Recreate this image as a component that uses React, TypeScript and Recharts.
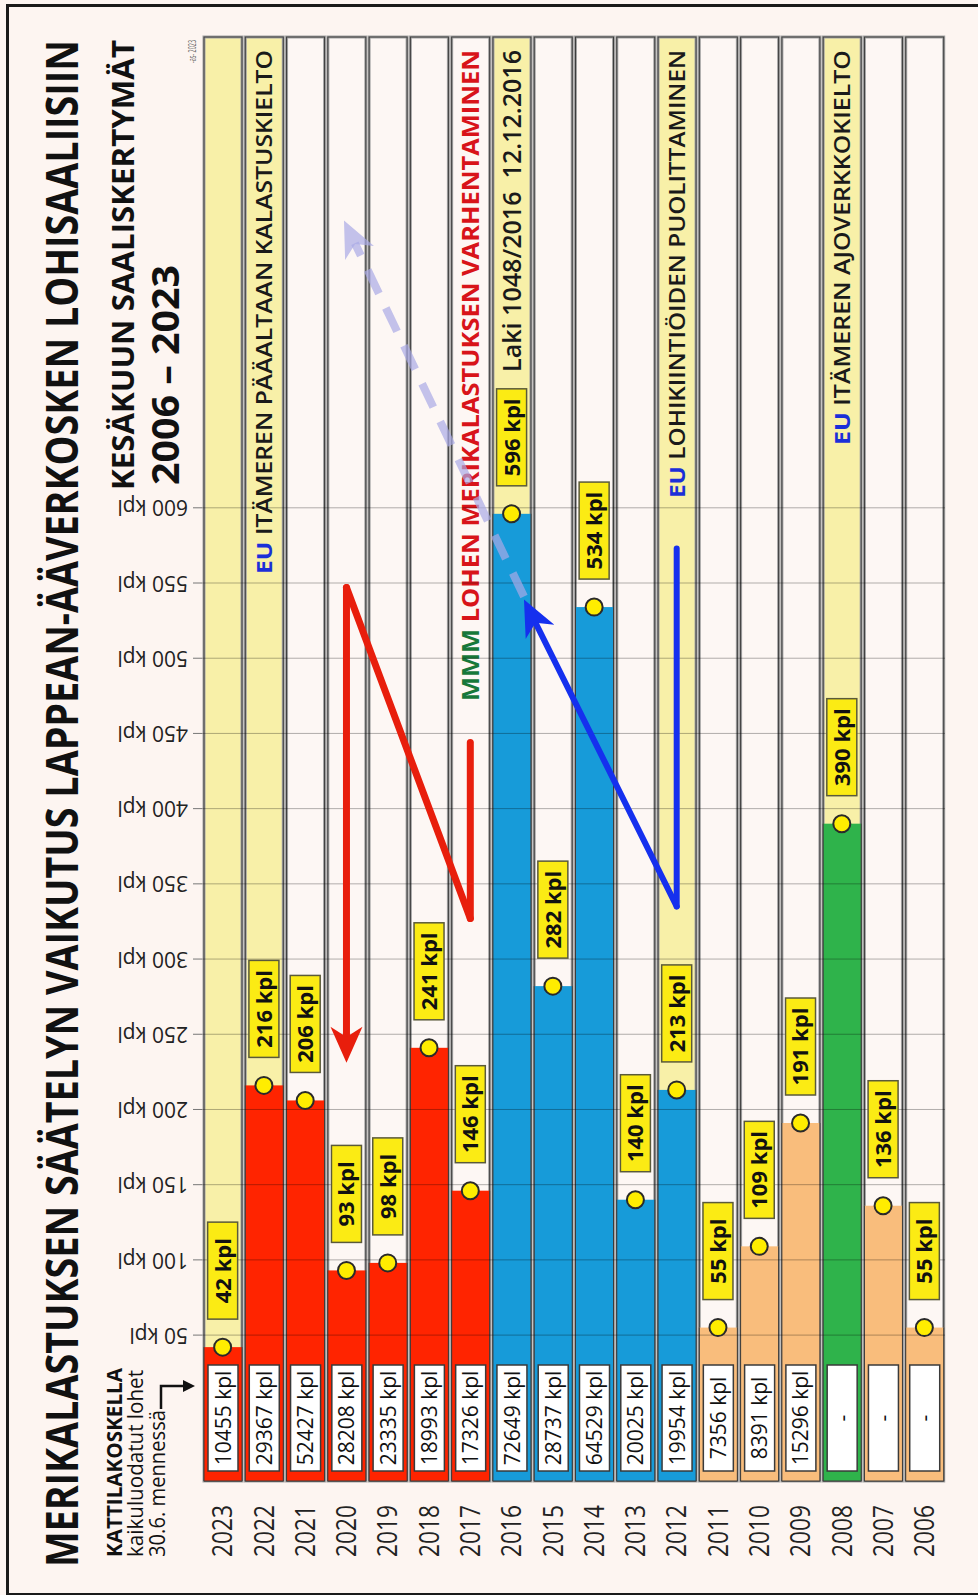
import React from 'react';
import { ComposedChart, Bar, Line, XAxis, YAxis, ReferenceLine } from 'recharts';

// Kesäkuun saaliskertymät, Lappean-Äävervoski (kpl)
const years = ['2023', '2022', '2021', '2020', '2019', '2018', '2017', '2016', '2015', '2014', '2013', '2012', '2011', '2010', '2009', '2008', '2007', '2006'];
const catchKpl = [42, 216, 206, 93, 98, 241, 146, 596, 282, 534, 140, 213, 55, 109, 191, 390, 136, 55];
// Kattilakoskella kaikuluodatut lohet 30.6. mennessä (null = ei tietoa)
const echoCounts = [10455, 29367, 52427, 28208, 23335, 18993, 17326, 72649, 28737, 64529, 20025, 19954, 7356, 8391, 15296, null, null, null];
const valueTicks = [50, 100, 150, 200, 250, 300, 350, 400, 450, 500, 550, 600];

const notes = [
  { year: '2022', lead: 'EU', text: 'ITÄMEREN PÄÄALTAAN KALASTUSKIELTO' },
  { year: '2017', lead: 'MMM', text: 'LOHEN MERIKALASTUKSEN VARHENTAMINEN' },
  { year: '2016', lead: '', text: 'Laki 1048/2016  12.12.2016' },
  { year: '2012', lead: 'EU', text: 'LOHIKIINTIÖIDEN PUOLITTAMINEN' },
  { year: '2008', lead: 'EU', text: 'ITÄMEREN AJOVERKKOKIELTO' },
];

// annotation arrows: [row (0 = 2023 ... 17 = 2006, fractional between), kpl]
const redArrow = [[6, 444], [6, 327], [3, 547], [3, 231]];
const blueArrow = [[11, 573], [11, 335], [7.3, 539]];
const dashedArrow = [[7.3, 541], [2.94, 791]];

const AXIS_MIN = -47;
const AXIS_MAX = 913;
const FONT = "'Open Sans', 'DejaVu Sans', sans-serif";

const highlighted = ['2023', '2022', '2016', '2012', '2008'];
const noteStyle: Record<string, any> = {
  '2022': { size: 22, weight: 600, length: 524, lead: '#1b2fd8', color: '#1a1a1a' },
  '2017': { size: 24, weight: 700, length: 651, lead: '#17783a', color: '#d8141a' },
  '2016': { size: 25, weight: 600, length: 322, lead: '#1a1a1a', color: '#1a1a1a' },
  '2012': { size: 22, weight: 600, length: 448, lead: '#1b2fd8', color: '#1a1a1a' },
  '2008': { size: 22, weight: 600, length: 395, lead: '#1b2fd8', color: '#1a1a1a' },
};

const barColor = (year: number) => {
  if (year >= 2017) return '#ff2400';
  if (year >= 2012) return '#179bd9';
  if (year === 2008) return '#2fb34b';
  return '#f9bd7c';
};

const chartData = years.map((year, i) => ({ year, row: i, kpl: catchKpl[i], span: [AXIS_MIN, catchKpl[i]] }));

const renderStripe = (p: any) => {
  const { x, y, width, height, index } = p;
  const year = years[index];
  const note = notes.find((n) => n.year === year);
  const st = note ? noteStyle[year] : null;
  return (
    <g key={`stripe-${index}`}>
      <rect x={x} y={y} width={width} height={height} fill={highlighted.includes(year) ? '#f8f0a8' : '#fdf7f4'} stroke="#a3a3a3" strokeWidth={3} />
      <rect x={x} y={y} width={width} height={height} fill="none" stroke="#3c3c3c" strokeWidth={1} />
      {note && (
        <text
          x={x + width - 13 - st.length}
          y={y + height / 2}
          dy="0.36em"
          fontSize={st.size}
          fontWeight={st.weight}
          fontFamily={FONT}
          textLength={st.length}
          lengthAdjust="spacingAndGlyphs"
          style={{ whiteSpace: 'pre' }}
        >
          {note.lead && <tspan fill={st.lead} fontWeight={700}>{note.lead + ' '}</tspan>}
          <tspan fill={st.color}>{note.text}</tspan>
        </text>
      )}
    </g>
  );
};

const renderBar = (p: any) => {
  const { x, y, width, height, index } = p;
  const count = echoCounts[index];
  const bx = x + 10;
  const by = y + 4;
  return (
    <g>
      <rect x={x} y={y} width={width} height={height} fill={barColor(Number(years[index]))} />
      <path d={`M${x + width},${y} H${x} V${y + height} H${x + width}`} fill="none" stroke="#3c3c3c" strokeWidth={1} />
      <rect x={bx} y={by} width={106} height={height - 8} fill="#ffffff" stroke="#3a3a3a" strokeWidth={1.5} />
      <text x={bx + 53} y={by + (height - 8) / 2} dy="0.36em" textAnchor="middle" fontSize={21} fontFamily={FONT} fill="#111">
        {count == null ? '-' : `${count} kpl`}
      </text>
    </g>
  );
};

const renderDot = (p: any) => {
  const { cx, cy, index } = p;
  return (
    <g key={`dot-${index}`}>
      <circle cx={cx} cy={cy} r={8.5} fill="#ffed00" stroke="#2a2a2a" strokeWidth={2} />
      <rect x={cx + 28} y={cy - 15} width={97} height={30} fill="#fbeb14" stroke="#5a5a3a" strokeWidth={1.5} />
      <text x={cx + 76.5} y={cy} dy="0.36em" textAnchor="middle" fontSize={22} fontWeight={700} fontFamily={FONT} fill="#111">
        {`${catchKpl[index]} kpl`}
      </text>
    </g>
  );
};

const renderValueTick = (p: any) => {
  const { x, y, payload } = p;
  return (
    <g transform={`translate(${x},${y}) rotate(-90)`}>
      <text x={0} y={0} dy="0.35em" textAnchor="start" fontSize={21} fontFamily={FONT} fill="#222">
        {`${payload.value} kpl`}
      </text>
    </g>
  );
};

const renderYear = (p: any) => {
  const { x, y, payload } = p;
  return (
    <text x={x - 52} y={y} dy="0.36em" fontSize={27} fontFamily={FONT} fill="#222" textLength={52} lengthAdjust="spacingAndGlyphs">
      {payload.value}
    </text>
  );
};

const arrowSeg = (color: string, w: number, head: boolean, dash?: string) => (p: any) => {
  const { x1, y1, x2, y2 } = p;
  const len = Math.hypot(x2 - x1, y2 - y1) || 1;
  const ux = (x2 - x1) / len;
  const uy = (y2 - y1) / len;
  const hl = 36;
  const hw = 16;
  const ex = head ? x2 - ux * hl * 0.7 : x2;
  const ey = head ? y2 - uy * hl * 0.7 : y2;
  return (
    <g>
      <line x1={x1} y1={y1} x2={ex} y2={ey} stroke={color} strokeWidth={w} strokeLinecap={dash ? 'butt' : 'round'} strokeDasharray={dash} />
      {head && (
        <polygon
          points={`${x2},${y2} ${x2 - ux * hl - uy * hw},${y2 - uy * hl + ux * hw} ${x2 - ux * hl * 0.72},${y2 - uy * hl * 0.72} ${x2 - ux * hl + uy * hw},${y2 - uy * hl - ux * hw}`}
          fill={color}
        />
      )}
    </g>
  );
};

const arrowLines = (pts: number[][], name: string, color: string, w: number, dash?: string) =>
  pts.slice(1).map((pt, i) => (
    <ReferenceLine
      key={`${name}-${i}`}
      yAxisId="row"
      segment={[{ x: pts[i][1], y: pts[i][0] }, { x: pt[1], y: pt[0] }]}
      shape={arrowSeg(color, w, i === pts.length - 2, dash)}
      ifOverflow="visible"
    />
  ));

// half a row band, so that row i of the numeric axis sits on the centre of category i
const HALF_ROW = 743 / years.length / 2;
// title is squeezed horizontally (condensed look)
const TITLE_SX = 0.7;

export default function App() {
  return (
    <div style={{ position: 'absolute', left: 0, top: 0, width: 978, height: 1595, background: '#fdf5f1', overflow: 'hidden', fontFamily: FONT }}>
      <div style={{ position: 'absolute', left: 6, top: 4, width: 990, height: 1586, border: '3px solid #1a1a1a' }} />
      <div style={{ position: 'absolute', left: 0, top: 0, width: 1595, height: 978, transformOrigin: '0 0', transform: 'translateY(1595px) rotate(-90deg)' }}>
        <ComposedChart width={1595} height={978} data={chartData} layout="vertical" margin={{ top: 0, right: 37, bottom: 33, left: 0 }}>
          <XAxis
            type="number"
            orientation="top"
            height={202}
            domain={[AXIS_MIN, AXIS_MAX]}
            ticks={valueTicks}
            interval={0}
            tickSize={9}
            tickMargin={5}
            axisLine={false}
            tickLine={{ stroke: '#777' }}
            tick={renderValueTick}
          />
          <YAxis type="category" dataKey="year" width={114} interval={0} tickLine={false} axisLine={false} tickSize={0} tickMargin={24} tick={renderYear} />
          <YAxis yAxisId="row" type="number" dataKey="row" domain={[0, years.length - 1]} padding={{ top: HALF_ROW, bottom: HALF_ROW }} hide />
          <Bar dataKey="span" barSize={38} background={renderStripe} shape={renderBar} isAnimationActive={false} />
          {valueTicks.map((t) => (
            <ReferenceLine key={`grid-${t}`} x={t} stroke="#000" strokeOpacity={0.3} strokeWidth={1} />
          ))}
          {arrowLines(dashedArrow, 'dash', 'rgba(170,170,230,0.7)', 8, '26 16')}
          {arrowLines(redArrow, 'red', '#e81e0c', 7)}
          {arrowLines(blueArrow, 'blue', '#1530ee', 6)}
          <Line dataKey="kpl" stroke="none" dot={renderDot} activeDot={false} isAnimationActive={false} />
        </ComposedChart>
        <svg width={1595} height={978} style={{ position: 'absolute', left: 0, top: 0, pointerEvents: 'none' }} fontFamily={FONT}>
          <g transform={`translate(28,78) scale(${TITLE_SX},1)`}>
            <text x={0} y={0} fontSize={44} fontWeight={700} fill="#111" textLength={1527 / TITLE_SX} lengthAdjust="spacingAndGlyphs">
              MERIKALASTUKSEN SÄÄTELYN VAIKUTUS LAPPEAN-ÄÄVERKOSKEN LOHISAALIISIIN
            </text>
          </g>
          <text x={1105} y={134} fontSize={30} fontWeight={700} fill="#111" textLength={450} lengthAdjust="spacingAndGlyphs">
            KESÄKUUN SAALISKERTYMÄT
          </text>
          <text x={1110} y={179} fontSize={38} fontWeight={700} fill="#111" textLength={220} lengthAdjust="spacingAndGlyphs">
            2006 – 2023
          </text>
          <text x={1532} y={196} fontSize={11} fill="#666" textLength={23} lengthAdjust="spacingAndGlyphs">
            -as- 2023
          </text>
          <text x={38} y={122} fontSize={22} fontWeight={700} fill="#111" textLength={189} lengthAdjust="spacingAndGlyphs">
            KATTILAKOSKELLA
          </text>
          <text x={38} y={143} fontSize={22} fill="#111" textLength={187} lengthAdjust="spacingAndGlyphs">
            kaikuluodatut lohet
          </text>
          <text x={38} y={165} fontSize={22} fill="#111" textLength={147} lengthAdjust="spacingAndGlyphs">
            30.6. mennessä
          </text>
          <path d="M186,161 H209 V184" fill="none" stroke="#111" strokeWidth={2.5} />
          <polygon points="203,183 215,183 209,195" fill="#111" />
        </svg>
      </div>
    </div>
  );
}
